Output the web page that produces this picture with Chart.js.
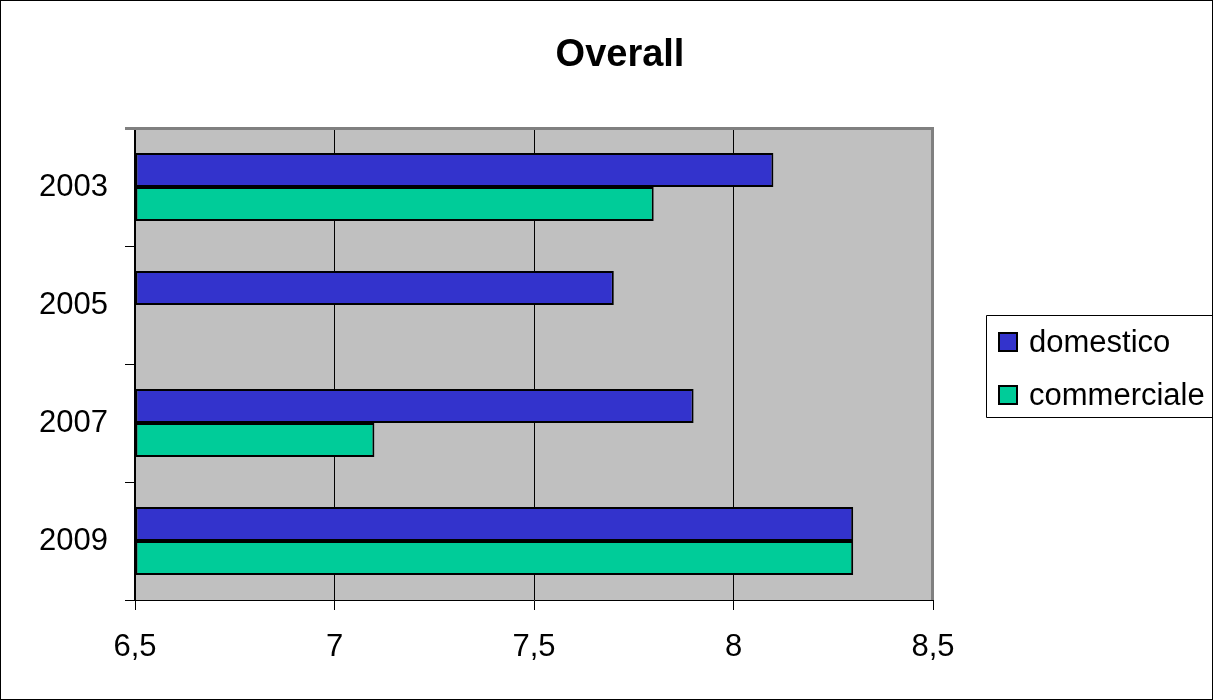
<!DOCTYPE html>
<html>
<head>
<meta charset="utf-8">
<script src="https://cdn.jsdelivr.net/npm/chart.js@4/dist/chart.umd.min.js"></script>
<style>
  html, body { margin: 0; padding: 0; background: #fff; }
  #wrap { width: 1213px; height: 700px; }
</style>
</head>
<body>
<div id="wrap"><canvas id="overall" width="1213" height="700"></canvas></div>
<script>
// Data
const years = ['2003', '2005', '2007', '2009'];
const domestico = [8.1, 7.7, 7.9, 8.3];
const commerciale = [7.8, null, 7.1, 8.3];
const seriesNames = ['domestico', 'commerciale'];
const seriesColors = ['#3333CC', '#00CC99'];
const xTicks = [6.5, 7, 7.5, 8, 8.5];
const chartTitle = 'Overall';

const FONT = "'Liberation Sans', Arial, sans-serif";

// gray plot background, plot frame, title, page frame and boxed legend
const excelLook = {
  id: 'excelLook',
  beforeDraw(chart) {
    const { ctx, chartArea: a } = chart;
    ctx.save();
    ctx.fillStyle = '#C0C0C0';
    ctx.fillRect(a.left, a.top, a.right - a.left, a.bottom - a.top);
    ctx.restore();
  },
  afterDraw(chart) {
    const { ctx, chartArea: a } = chart;
    ctx.save();
    // top and right plot border
    ctx.strokeStyle = '#808080';
    ctx.lineWidth = 3;
    ctx.beginPath();
    ctx.moveTo(a.left - 10, a.top + 0.5);
    ctx.lineTo(a.right - 0.5, a.top + 0.5);
    ctx.lineTo(a.right - 0.5, a.bottom);
    ctx.stroke();

    // title, centred like the original sheet
    ctx.fillStyle = '#000';
    ctx.font = 'bold 38px ' + FONT;
    ctx.textAlign = 'center';
    ctx.textBaseline = 'middle';
    ctx.fillText(chartTitle, 620, 56);

    // legend
    const lx = 986, ly = 315, lh = 102;
    ctx.lineWidth = 1;
    ctx.strokeStyle = '#000';
    ctx.beginPath();
    ctx.moveTo(1213, ly + 0.5);
    ctx.lineTo(lx + 0.5, ly + 0.5);
    ctx.lineTo(lx + 0.5, ly + lh + 0.5);
    ctx.lineTo(1213, ly + lh + 0.5);
    ctx.stroke();
    const rows = [342, 395];
    chart.data.datasets.forEach((ds, i) => {
      const cy = rows[i];
      ctx.fillStyle = ds.backgroundColor;
      ctx.fillRect(999, cy - 9, 18, 18);
      ctx.lineWidth = 2;
      ctx.strokeStyle = '#000';
      ctx.strokeRect(999, cy - 9, 18, 18);
      ctx.fillStyle = '#000';
      ctx.font = '31px ' + FONT;
      ctx.textBaseline = 'middle';
      ctx.textAlign = 'left';
      ctx.fillText(ds.label, 1029, cy + 1);
    });

    // page frame
    ctx.lineWidth = 1;
    ctx.strokeStyle = '#000';
    ctx.strokeRect(0.5, 0.5, 1212, 699);
    ctx.restore();
  }
};

const ctx = document.getElementById('overall').getContext('2d');
new Chart(ctx, {
  type: 'bar',
  data: {
    labels: years,
    datasets: [
      { label: seriesNames[0], data: domestico, backgroundColor: seriesColors[0] },
      { label: seriesNames[1], data: commerciale, backgroundColor: seriesColors[1] }
    ]
  },
  options: {
    indexAxis: 'y',
    responsive: false,
    animation: false,
    layout: { padding: { left: 0, right: 280, top: 128, bottom: 0 } },
    datasets: {
      bar: {
        borderColor: '#000',
        borderWidth: 2,
        borderSkipped: false,
        categoryPercentage: 0.575,
        barPercentage: 1.0,
        base: 6.5
      }
    },
    scales: {
      x: {
        type: 'linear',
        min: 6.5,
        max: 8.5,
        afterBuildTicks: (axis) => { axis.ticks = xTicks.map(v => ({ value: v })); },
        afterFit: (axis) => { axis.height = 100; },
        grid: { color: '#000', lineWidth: 1, tickLength: 10, drawOnChartArea: true },
        border: { color: '#000', width: 1 },
        ticks: {
          color: '#000',
          padding: 19,
          font: { family: FONT, size: 31 },
          callback: (v) => String(v).replace('.', ',')
        }
      },
      y: {
        afterFit: (axis) => { axis.width = 135; },
        grid: { color: '#000', lineWidth: 1, tickLength: 10, offset: true, drawOnChartArea: false },
        border: { color: '#000', width: 2 },
        ticks: {
          color: '#000',
          padding: 17,
          font: { family: FONT, size: 31 }
        }
      }
    },
    plugins: {
      legend: { display: false },
      tooltip: { enabled: false },
      title: { display: false }
    }
  },
  plugins: [excelLook]
});
</script>
</body>
</html>
